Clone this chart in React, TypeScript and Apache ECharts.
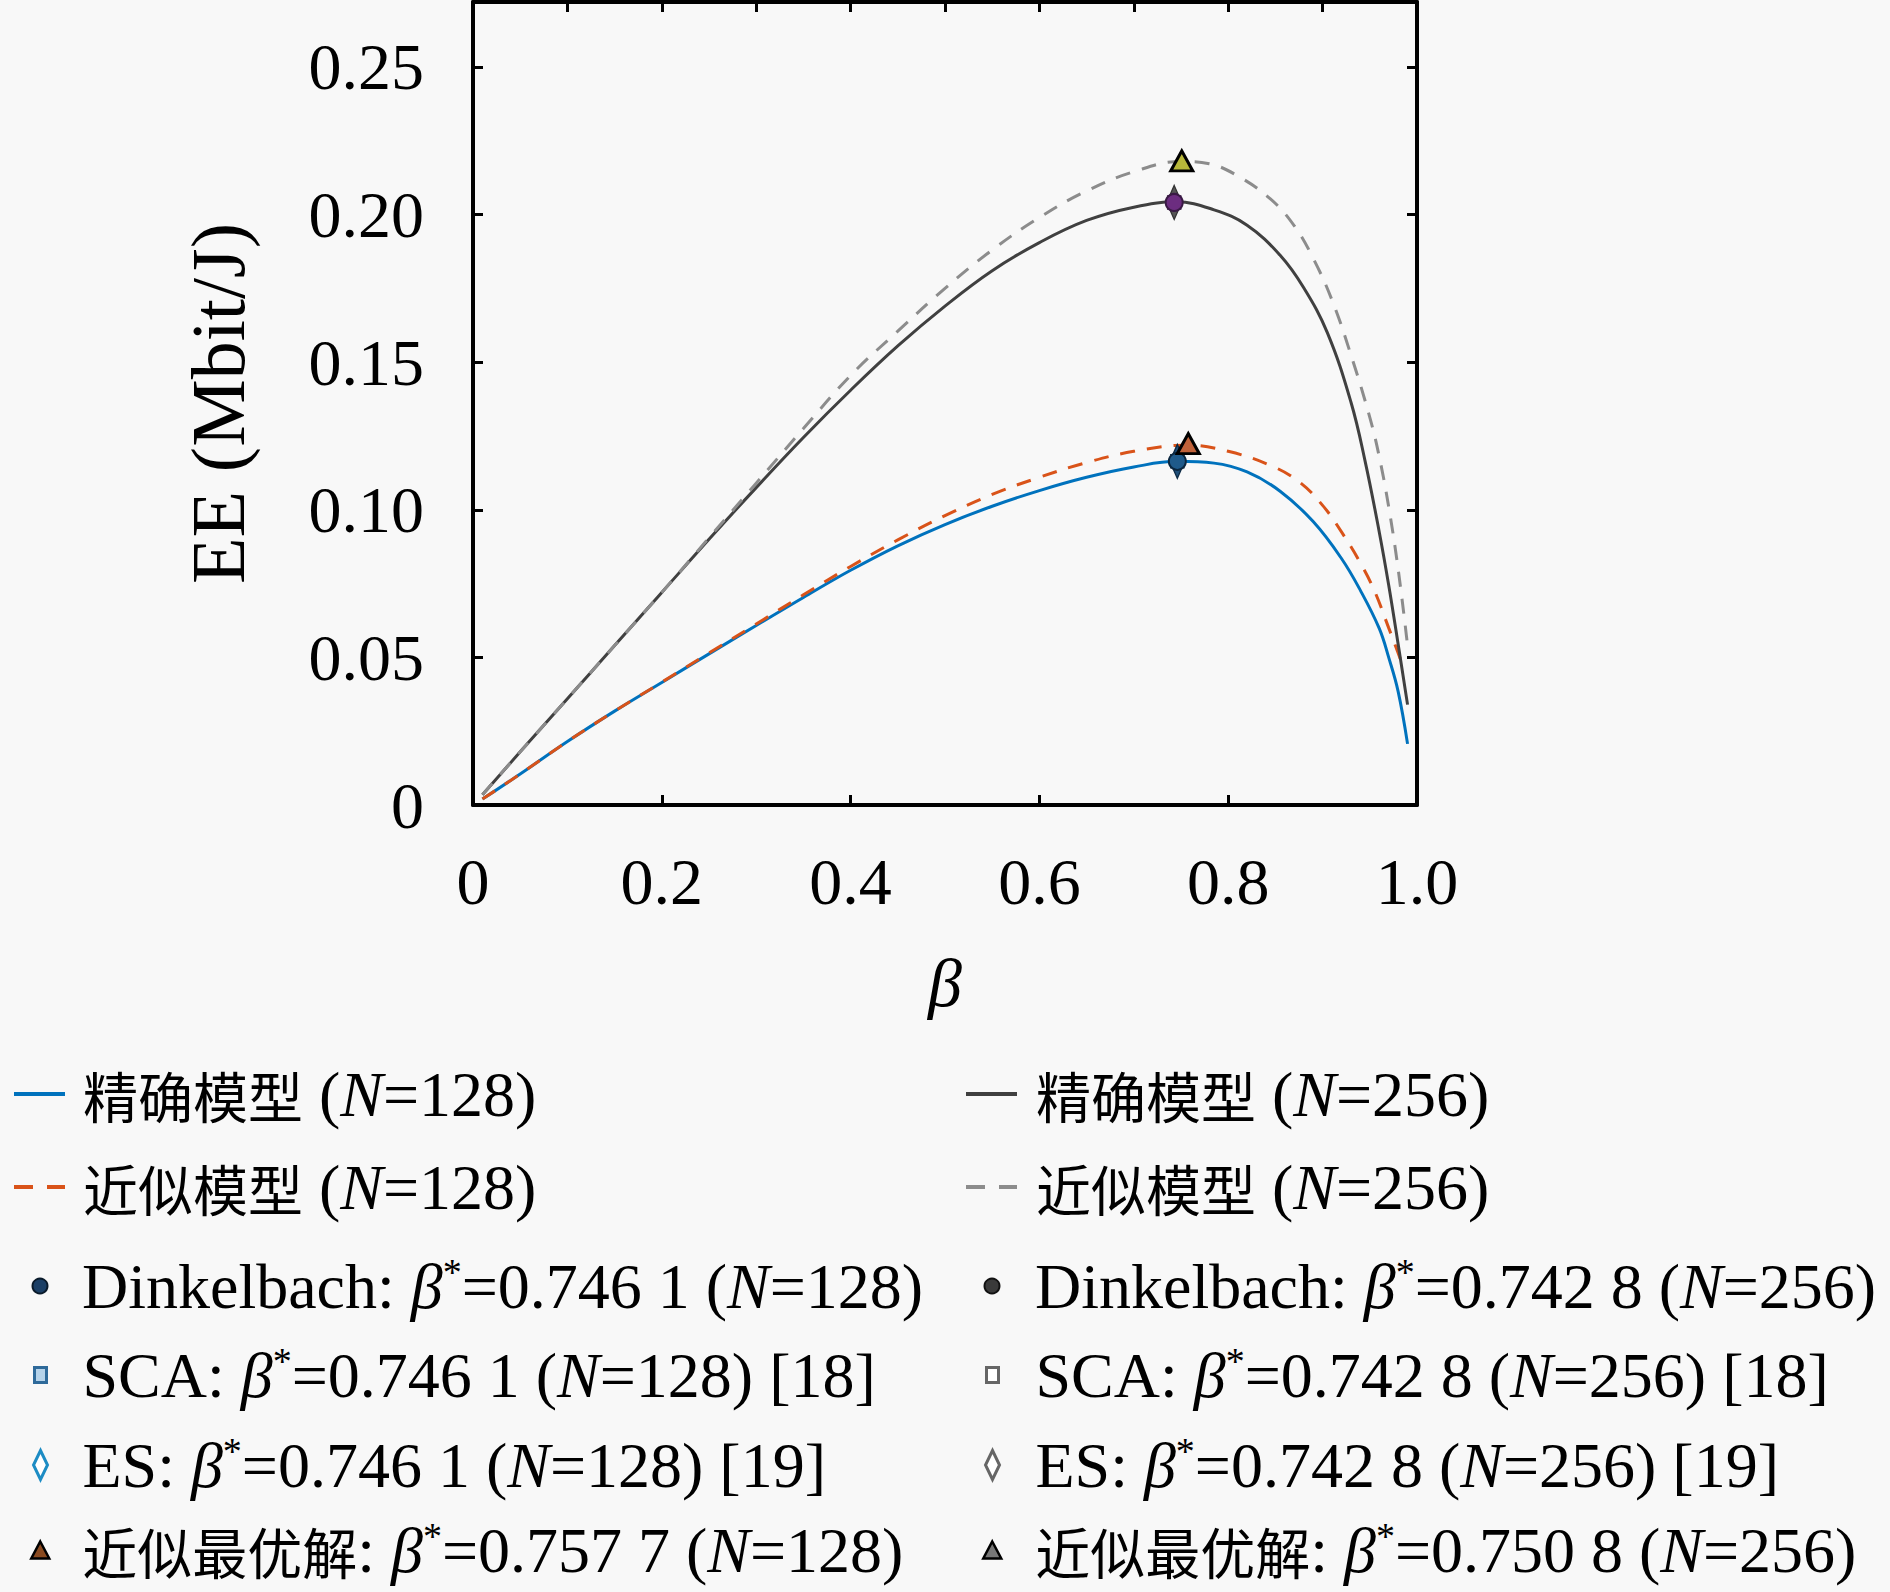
import React, { useEffect, useRef } from 'react';
import * as echarts from 'echarts';

// ---------- data ----------
const betaExact256 = [0.01, 0.05, 0.1, 0.15, 0.2, 0.25, 0.3, 0.35, 0.4, 0.45, 0.5, 0.55, 0.6, 0.65, 0.7, 0.745, 0.785, 0.82, 0.855, 0.88, 0.905, 0.93, 0.945, 0.96, 0.97, 0.98, 0.99];
const eeExact256 = [0.0035, 0.018, 0.036, 0.054, 0.072, 0.09, 0.1075, 0.1245, 0.1405, 0.1555, 0.169, 0.181, 0.1905, 0.198, 0.2025, 0.2043, 0.2016, 0.1964, 0.1862, 0.1752, 0.16, 0.1365, 0.1165, 0.0925, 0.0745, 0.0545, 0.034];

const betaApprox256 = [0.01, 0.05, 0.1, 0.15, 0.2, 0.25, 0.3, 0.35, 0.4, 0.45, 0.5, 0.55, 0.6, 0.65, 0.7, 0.75, 0.78, 0.81, 0.845, 0.87, 0.89, 0.91, 0.93, 0.95, 0.96, 0.97, 0.98, 0.99];
const eeApprox256 = [0.0035, 0.018, 0.036, 0.054, 0.072, 0.0905, 0.109, 0.1275, 0.1455, 0.1605, 0.175, 0.188, 0.199, 0.208, 0.2145, 0.218, 0.2172, 0.2131, 0.2052, 0.1962, 0.1852, 0.171, 0.1525, 0.1313, 0.118, 0.101, 0.08, 0.054];

const betaExact128 = [0.01, 0.05, 0.1, 0.15, 0.2, 0.25, 0.3, 0.35, 0.4, 0.45, 0.5, 0.55, 0.6, 0.65, 0.7, 0.746, 0.785, 0.82, 0.855, 0.89, 0.92, 0.94, 0.96, 0.97, 0.98, 0.99];
const eeExact128 = [0.002, 0.0105, 0.0215, 0.0318, 0.0415, 0.0512, 0.0608, 0.0703, 0.0795, 0.0878, 0.095, 0.1012, 0.1065, 0.111, 0.1145, 0.1164, 0.1158, 0.1128, 0.1063, 0.096, 0.0835, 0.0727, 0.0598, 0.05, 0.0385, 0.0207];

const betaApprox128 = [0.01, 0.05, 0.1, 0.15, 0.2, 0.25, 0.3, 0.35, 0.4, 0.45, 0.5, 0.55, 0.6, 0.65, 0.7, 0.757, 0.8, 0.845, 0.875, 0.9, 0.92, 0.94, 0.955, 0.97, 0.98, 0.985];
const eeApprox128 = [0.002, 0.0105, 0.0215, 0.0318, 0.0416, 0.0515, 0.0613, 0.0712, 0.0808, 0.0898, 0.098, 0.1052, 0.111, 0.116, 0.1198, 0.1219, 0.1198, 0.115, 0.1095, 0.1015, 0.0925, 0.082, 0.0725, 0.06, 0.0515, 0.047];

const dinkel128 = [0.7461, 0.1164];
const sca128 = [0.7461, 0.1164];
const es128 = [0.7461, 0.1164];
const opt128 = [0.7577, 0.1224];
const dinkel256 = [0.7428, 0.2041];
const sca256 = [0.7428, 0.2041];
const es256 = [0.7428, 0.2041];
const opt256 = [0.7508, 0.2182];

const xTicks = [0, 0.2, 0.4, 0.6, 0.8, 1.0];
const yTicks = [0, 0.05, 0.1, 0.15, 0.2, 0.25];

const names = {
  exact128: '精确模型 (N=128)',
  exact256: '精确模型 (N=256)',
  approx128: '近似模型 (N=128)',
  approx256: '近似模型 (N=256)',
  dinkel128: 'Dinkelbach: β*=0.746 1 (N=128)',
  dinkel256: 'Dinkelbach: β*=0.742 8 (N=256)',
  sca128: 'SCA: β*=0.746 1 (N=128) [18]',
  sca256: 'SCA: β*=0.742 8 (N=256) [18]',
  es128: 'ES: β*=0.746 1 (N=128) [19]',
  es256: 'ES: β*=0.742 8 (N=256) [19]',
  opt128: '近似最优解: β*=0.757 7 (N=128)',
  opt256: '近似最优解: β*=0.750 8 (N=256)',
};

// ---------- styles ----------
const SERIF = "'Liberation Serif', 'Noto Sans CJK SC', serif";
const CJK = "'Noto Sans CJK SC', sans-serif";
const LEG_FS = 64;
const LEG_LH = 66;

const rich: any = {
  t: { fontFamily: SERIF, fontSize: LEG_FS, lineHeight: LEG_LH, color: '#000' },
  i: { fontFamily: SERIF, fontStyle: 'italic', fontSize: LEG_FS, lineHeight: LEG_LH, color: '#000' },
  s: { fontFamily: SERIF, fontSize: 38, lineHeight: 40, verticalAlign: 'top', color: '#000' },
  c: { fontFamily: CJK, fontSize: 55, lineHeight: LEG_LH, color: '#000' },
};

function toRich(name: string): string {
  return name
    .split(/(β\*|N(?==)|[\u4e00-\u9fff]+)/)
    .filter((p) => p !== '')
    .map((p) => {
      if (p === 'β*') return '{i|β}{s|*}';
      if (p === 'N') return '{i|N}';
      if (/^[\u4e00-\u9fff]+$/.test(p)) return `{c|${p}}`;
      return `{t|${p}}`;
    })
    .join('');
}

function legendItem(name: string, cx: number, cy: number, w: number, h: number, textX: number, extra: any) {
  const left = cx - w / 2;
  const pad = textX - left - w - 5;
  return {
    data: [name],
    left,
    top: cy - LEG_LH / 2,
    orient: 'horizontal',
    padding: 0,
    itemGap: 0,
    itemWidth: w,
    itemHeight: h,
    selectedMode: false,
    symbolKeepAspect: false,
    formatter: (n: string) => toRich(n),
    textStyle: { fontFamily: SERIF, fontSize: LEG_FS, lineHeight: LEG_LH, color: '#000', padding: [0, 0, 0, pad], rich },
    ...extra,
  };
}

const rows = [1094, 1187, 1286, 1375, 1465, 1550];
const col1 = { line: 37.5, mark: 39, text: 81 };
const col2 = { line: 989.5, mark: 991, text: 1034 };
const hiddenSym = { itemStyle: { color: 'rgba(0,0,0,0)', borderWidth: 0, opacity: 0 } };

const axisLineStyle = { color: '#000', width: 4 };
const tickStyle = { show: true, inside: true, length: 10, lineStyle: { color: '#000', width: 3 } };

function lineSeries(name: string, xs: number[], ys: number[], color: string, dashed: boolean) {
  return {
    type: 'line',
    name,
    data: xs.map((b, i) => [b, ys[i]]),
    symbol: 'none',
    smooth: 0.4,
    lineStyle: { color, width: 3, type: dashed ? [15, 12] : 'solid' },
    itemStyle: { color },
    z: 2,
  };
}

function markSeries(name: string, pt: number[], symbol: string, size: any, fill: string, border: string, bw: number, z: number) {
  return {
    type: 'scatter',
    name,
    data: [pt],
    symbol,
    symbolSize: size,
    itemStyle: { color: fill, borderColor: border, borderWidth: bw, opacity: 1 },
    z,
  };
}

export default function App() {
  const ref = useRef<HTMLDivElement>(null);
  useEffect(() => {
    if (!ref.current) return;
    const chart = echarts.init(ref.current, undefined, { renderer: 'svg' });
    const option: any = {
      animation: false,
      backgroundColor: '#f8f8f8',
      grid: { left: 473, top: 2, width: 944, height: 803, containLabel: false },
      xAxis: [
        {
          type: 'value', min: 0, max: 1, interval: 0.2, position: 'bottom',
          name: 'β', nameLocation: 'middle', nameGap: 144,
          nameTextStyle: { fontFamily: SERIF, fontStyle: 'italic', fontSize: 68, color: '#000' },
          axisLine: { show: true, onZero: false, lineStyle: axisLineStyle },
          axisTick: tickStyle,
          axisLabel: {
            margin: 43, fontFamily: SERIF, fontSize: 66, color: '#000',
            formatter: (v: number) => (xTicks.indexOf(Math.round(v * 10) / 10) >= 0 ? (v === 0 ? '0' : v.toFixed(1)) : ''),
          },
          splitLine: { show: false },
        },
        {
          type: 'value', min: 0, max: 1, interval: 0.1, position: 'top',
          axisLine: { show: true, onZero: false, lineStyle: axisLineStyle },
          axisTick: tickStyle,
          axisLabel: { show: false },
          splitLine: { show: false },
        },
      ],
      yAxis: [
        {
          type: 'value', min: 0, max: 0.272, interval: 0.05, position: 'left',
          name: 'EE (Mbit/J)', nameLocation: 'middle', nameGap: 217,
          nameTextStyle: { fontFamily: SERIF, fontSize: 76, color: '#000' },
          axisLine: { show: true, onZero: false, lineStyle: axisLineStyle },
          axisTick: tickStyle,
          axisLabel: {
            margin: 49, fontFamily: SERIF, fontSize: 66, color: '#000', showMaxLabel: false,
            formatter: (v: number) => {
              const r = Math.round(v * 100) / 100;
              if (yTicks.indexOf(r) < 0 || Math.abs(v - r) > 1e-6) return '';
              return r === 0 ? '0' : r.toFixed(2);
            },
          },
          splitLine: { show: false },
        },
        {
          type: 'value', min: 0, max: 0.272, interval: 0.05, position: 'right',
          axisLine: { show: true, onZero: false, lineStyle: axisLineStyle },
          axisTick: tickStyle,
          axisLabel: { show: false },
          splitLine: { show: false },
        },
      ],
      legend: [
        legendItem(names.exact128, col1.line, rows[0], 51, 6, col1.text, { ...hiddenSym, lineStyle: { width: 4, type: 'solid' } }),
        legendItem(names.approx128, col1.line, rows[1], 51, 6, col1.text, { ...hiddenSym, lineStyle: { width: 4, type: [19, 14] } }),
        legendItem(names.exact256, col2.line, rows[0], 51, 6, col2.text, { ...hiddenSym, lineStyle: { width: 4, type: 'solid' } }),
        legendItem(names.approx256, col2.line, rows[1], 51, 6, col2.text, { ...hiddenSym, lineStyle: { width: 4, type: [19, 14] } }),
        legendItem(names.dinkel128, col1.mark, rows[2], 15, 15, col1.text, { itemStyle: { color: '#1b3f66', borderColor: '#0a1a2a', borderWidth: 2 } }),
        legendItem(names.sca128, col1.mark, rows[3], 12, 15, col1.text, { itemStyle: { color: '#b5d3ea', borderColor: '#2e6a9a', borderWidth: 3 } }),
        legendItem(names.es128, col1.mark, rows[4], 14, 29, col1.text, { itemStyle: { color: '#ffffff', borderColor: '#1d8cc4', borderWidth: 3 } }),
        legendItem(names.opt128, col1.mark, rows[5], 18, 17, col1.text, { itemStyle: { color: '#8a4a20', borderColor: '#000', borderWidth: 2.5 } }),
        legendItem(names.dinkel256, col2.mark, rows[2], 15, 15, col2.text, { itemStyle: { color: '#3a3a3a', borderColor: '#111', borderWidth: 2 } }),
        legendItem(names.sca256, col2.mark, rows[3], 12, 15, col2.text, { itemStyle: { color: '#ffffff', borderColor: '#666', borderWidth: 3 } }),
        legendItem(names.es256, col2.mark, rows[4], 14, 29, col2.text, { itemStyle: { color: '#ffffff', borderColor: '#666', borderWidth: 3 } }),
        legendItem(names.opt256, col2.mark, rows[5], 18, 17, col2.text, { itemStyle: { color: '#777', borderColor: '#000', borderWidth: 2.5 } }),
      ],
      series: [
        lineSeries(names.exact128, betaExact128, eeExact128, '#0072BD', false),
        lineSeries(names.approx128, betaApprox128, eeApprox128, '#D95319', true),
        lineSeries(names.exact256, betaExact256, eeExact256, '#404040', false),
        lineSeries(names.approx256, betaApprox256, eeApprox256, '#8c8c8c', true),
        markSeries(names.es128, es128, 'diamond', [15, 34], '#1f4f7a', '#0d2a45', 1.5, 5),
        markSeries(names.sca128, sca128, 'rect', 13, '#2a6496', '#0d2a45', 1.5, 6),
        markSeries(names.dinkel128, dinkel128, 'circle', 17, '#1f5a8a', '#0b2740', 2, 7),
        markSeries(names.opt128, opt128, 'triangle', [22, 20], '#c0623a', '#000', 3, 8),
        markSeries(names.es256, es256, 'diamond', [15, 34], '#555555', '#333333', 1.5, 5),
        markSeries(names.sca256, sca256, 'rect', 13, '#6a3a7a', '#3a1a45', 1.5, 6),
        markSeries(names.dinkel256, dinkel256, 'circle', 17, '#6c2d80', '#3a1a45', 2, 7),
        markSeries(names.opt256, opt256, 'triangle', [22, 20], '#b8b83a', '#000', 3, 8),
      ],
    };
    chart.setOption(option);
    return () => chart.dispose();
  }, []);
  return (
    <div
      ref={ref}
      style={{ position: 'fixed', left: 0, top: 0, width: 1890, height: 1592, background: '#f8f8f8' }}
    />
  );
}
